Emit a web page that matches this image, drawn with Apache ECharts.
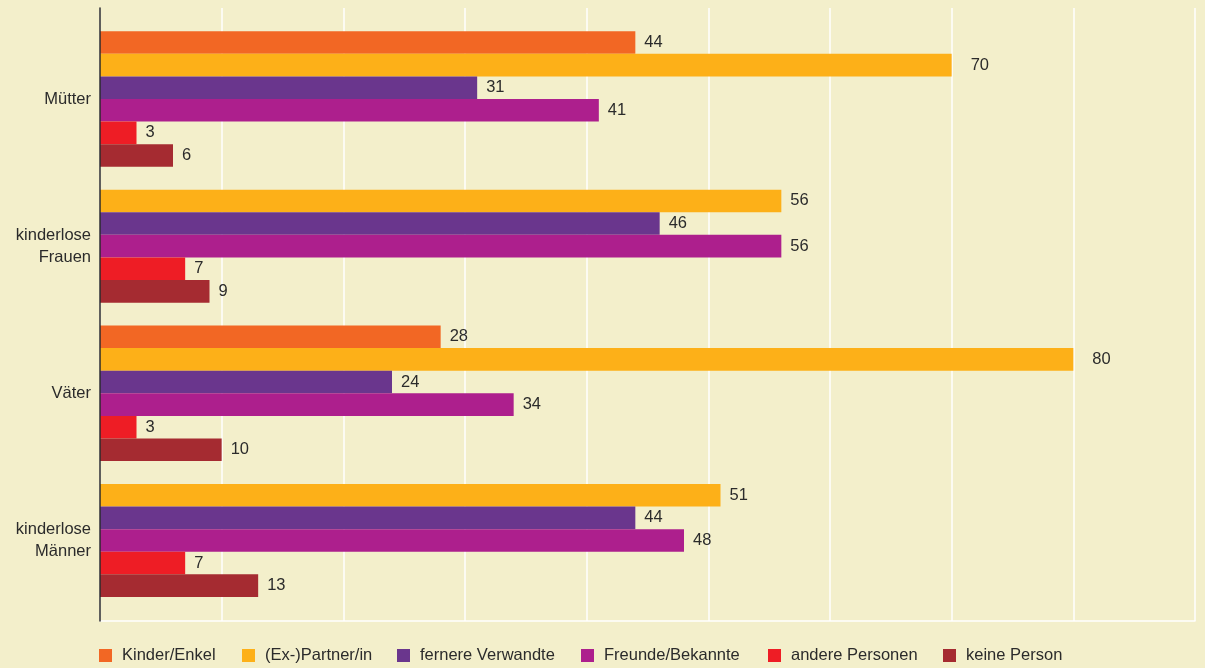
<!DOCTYPE html>
<html>
<head>
<meta charset="utf-8">
<script src="https://cdn.jsdelivr.net/npm/echarts@6/dist/echarts.min.js"></script>
<style>
html,body{margin:0;padding:0;background:#F3EFCB;}
#chart{width:1205px;height:668px;}
</style>
</head>
<body>
<div id="chart"></div>
<script>
const categories = ['Mütter', 'kinderlose\nFrauen', 'Väter', 'kinderlose\nMänner'];
const seriesNames = ['Kinder/Enkel', '(Ex-)Partner/in', 'fernere Verwandte', 'Freunde/Bekannte', 'andere Personen', 'keine Person'];
const kinderEnkel = [44, null, 28, null];
const partner = [70, 56, 80, 51];
const fernere = [31, 46, 24, 44];
const freunde = [41, 56, 34, 48];
const andere = [3, 7, 3, 7];
const keine = [6, 9, 10, 13];
const colors = ['#F26724', '#FDB018', '#6A368D', '#AD1F8D', '#EE1D25', '#A52B31'];

const allValues = [kinderEnkel, partner, fernere, freunde, andere, keine];
const hasChildren = kinderEnkel.map(v => v !== null);
const font = "'Liberation Sans', Arial, Helvetica, sans-serif";

function item(v) {
  if (v === null || v === '-') return '-';
  return { value: v, label: { distance: v >= 70 ? 19 : 9 } };
}

const series = [];
allValues.forEach((vals, si) => {
  series.push({
    name: seriesNames[si], type: 'bar', xAxisIndex: 1, yAxisIndex: 1,
    barWidth: 22.6, barGap: '0%',
    itemStyle: { color: colors[si] },
    label: { show: true, position: 'right', color: '#2b2b2b', fontSize: 16.5, fontFamily: font },
    data: vals.map((v, i) => hasChildren[i] ? item(v) : '-')
  });
  if (si > 0) {
    series.push({
      name: seriesNames[si], type: 'bar', xAxisIndex: 1, yAxisIndex: 2,
      barWidth: 22.6, barGap: '0%',
      itemStyle: { color: colors[si] },
      label: { show: true, position: 'right', color: '#2b2b2b', fontSize: 16.5, fontFamily: font },
      data: vals.map((v, i) => !hasChildren[i] ? item(v) : '-')
    });
  }
});

const legendLeft = [99, 242, 397, 581, 768, 943];
const legends = seriesNames.map((n, i) => ({
  data: [n], left: legendLeft[i], top: 647, padding: 0, icon: 'rect', itemWidth: 13, itemHeight: 13, itemGap: 10,
  textStyle: { fontSize: 16.5, color: '#2b2b2b', fontFamily: font, padding: [0, 0, 0, 5] }
}));

const chart = echarts.init(document.getElementById('chart'), null, { renderer: 'canvas' });
chart.setOption({
  backgroundColor: '#F3EFCB',
  animation: false,
  legend: legends,
  grid: [
    { left: 100, right: 10, top: 8, bottom: 47 },
    { left: 100, right: 10, top: 25.4, bottom: 54 }
  ],
  xAxis: [
    { type: 'value', gridIndex: 0, min: 0, max: 90, interval: 10,
      axisLabel: { show: false }, axisTick: { show: false },
      axisLine: { show: true, lineStyle: { color: '#ffffff', width: 1.5 } },
      splitLine: { show: true, lineStyle: { color: '#ffffff', width: 1.5 } } },
    { type: 'value', gridIndex: 1, min: 0, max: 90, show: false }
  ],
  yAxis: [
    { type: 'value', gridIndex: 0, min: 0, max: 1,
      axisLabel: { show: false }, axisTick: { show: false }, splitLine: { show: false },
      axisLine: { show: true, lineStyle: { color: '#2b2b2b', width: 1.5 } }, z: 5 },
    { type: 'category', gridIndex: 1, data: categories, inverse: true,
      axisLine: { show: false }, axisTick: { show: false },
      axisLabel: { margin: 9, fontSize: 16.5, color: '#2b2b2b', fontFamily: font, lineHeight: 22, align: 'right', padding: [3, 0, 0, 0] } },
    { type: 'category', gridIndex: 1, data: categories, inverse: true, show: false }
  ],
  series: series
});
</script>
</body>
</html>
